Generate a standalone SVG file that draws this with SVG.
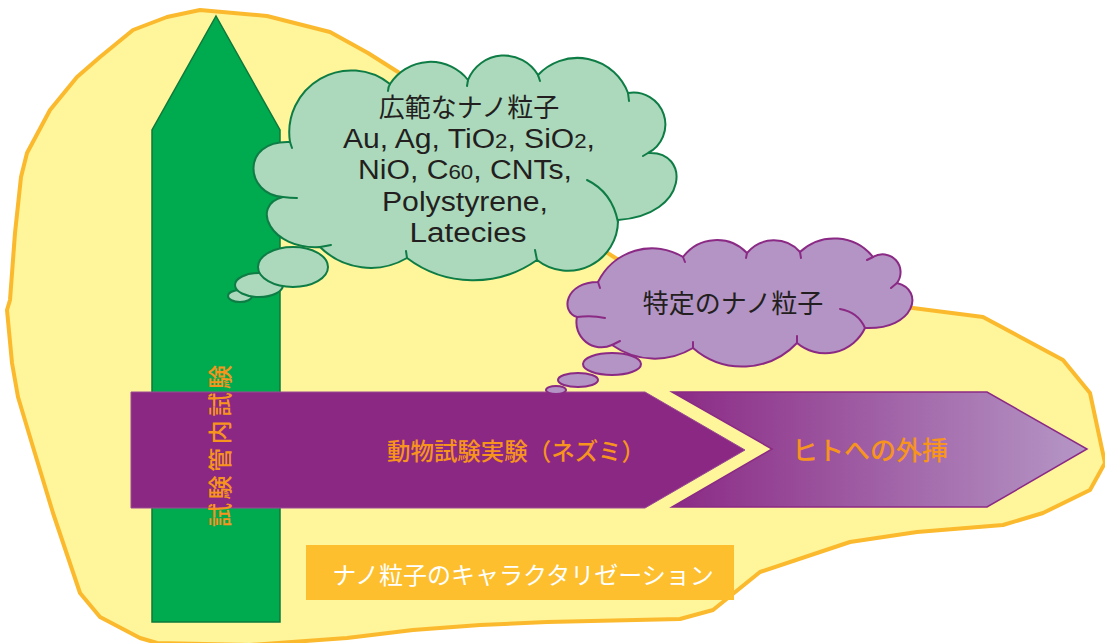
<svg xmlns="http://www.w3.org/2000/svg" width="1105" height="643" viewBox="0 0 1105 643">
<defs>
<style>
.jp{font-family:"Noto Sans CJK JP","Liberation Sans",sans-serif;}
.lt{font-family:"Liberation Sans","Noto Sans CJK JP",sans-serif;}
.dark{fill:#231f20;}
.org{fill:#f7941d;font-weight:500;}
.gc{fill:#acd9bc;stroke:#0e7c45;stroke-width:2;}
.gh{fill:none;stroke:#0e7c45;stroke-width:2;stroke-linecap:round;}
.pc{fill:#b394c4;stroke:#8b2a85;stroke-width:2;}
.ph{fill:none;stroke:#8b2a85;stroke-width:2;stroke-linecap:round;}
</style>
<linearGradient id="pg" x1="0" y1="0" x2="1" y2="0">
<stop offset="0" stop-color="#8b2a85"/>
<stop offset="1" stop-color="#b597c6"/>
</linearGradient>
</defs>
<rect width="1105" height="643" fill="#ffffff"/>

<g id="blob">
<path d="M200,10 L267,16 L330,32 L368,53 L398,72 L500,160 L603,250 L617,259 L760,290 L913,308 L983,317 L1063,360 L1090,393 L1105,463 L1090,490 L1043,513 L1003,525 L917,532 L850,542 L760,572 L713,610 L680,619 L547,622 L480,625 L413,630 L347,638 L250,645 L157,643 L140,638 L100,617 L90,605 L80,593 L53,513 L33,447 L18,397 L12,363 L7,310 L10,300 L15,233 L21,177 L27,153 L50,110 L77,77 L100,57 L133,30 L167,17 Z" fill="#fff59a" stroke="#fbb92d" stroke-width="4" stroke-linejoin="round"/>
</g>

<g id="invitro">
<polygon points="216,16 280,130 280,622 152,622 152,130" fill="#00aa4e" stroke="#0c7a3d" stroke-width="1.5"/>
</g>

<g id="cloud-wide">
<ellipse class="gc" cx="240" cy="296" rx="12" ry="6"/>
<ellipse class="gc" cx="259" cy="285" rx="24" ry="12"/>
<ellipse class="gc" cx="293" cy="267" rx="35" ry="20"/>
<path class="gc" d="M290,142 A62 62 0 0 1 390,84 A48 48 0 0 1 468,80 A39 39 0 0 1 538,75 A54 54 0 0 1 628,93 A32 32 0 0 1 648,153 C690,150 690,215 618,220 A50 50 0 0 1 537,260 A110 110 0 0 1 407,258 A72 72 0 0 1 320,247 C270,250 250,205 283,197 C245,195 240,140 290,142 Z"/>
<path class="gh" d="M283,197 Q290,198 297,198 M320,247 Q326,246 331,245 M290,142 L292,148 M390,84 Q388,87 388,91 M468,80 L467,86 M538,75 L540,81 M628,93 L629,101 M648,153 L643,156 M587,180 Q612,192 618,222 M537,260 L535,250 M407,258 L406,251"/>
<text class="jp dark" x="469" y="117" font-size="26" text-anchor="middle">広範なナノ粒子</text>
<text class="lt dark" x="469" y="148" font-size="27" text-anchor="middle" textLength="252" lengthAdjust="spacingAndGlyphs">Au, Ag, TiO<tspan font-size="20">2</tspan>, SiO<tspan font-size="20">2</tspan>,</text>
<text class="lt dark" x="465" y="179" font-size="27" text-anchor="middle" textLength="214" lengthAdjust="spacingAndGlyphs">NiO, C<tspan font-size="20">60</tspan>, CNTs,</text>
<text class="lt dark" x="465" y="211" font-size="27" text-anchor="middle" textLength="166" lengthAdjust="spacingAndGlyphs">Polystyrene,</text>
<text class="lt dark" x="468" y="242" font-size="27" text-anchor="middle" textLength="117" lengthAdjust="spacingAndGlyphs">Latecies</text>
</g>

<g id="animal">
<polygon points="131,392 645,392 745,450 645,508 131,508" fill="#8b2883" stroke="#9a4a95" stroke-width="1"/>
<text class="jp org" x="516" y="449" font-size="24" text-anchor="middle" dominant-baseline="central" textLength="258" lengthAdjust="spacingAndGlyphs">動物試験実験（ネズミ）</text>
</g>

<g id="human">
<polygon points="672,392 987,392 1087,449 987,507 672,507 772,449" fill="url(#pg)" stroke="#8b2a85" stroke-width="1.5"/>
<text class="jp org" x="870" y="448" font-size="26" text-anchor="middle" dominant-baseline="central">ヒトへの外挿</text>
</g>

<g id="invitro-label">
<text class="jp org" transform="translate(218,446) rotate(-90)" font-size="24" text-anchor="middle" dominant-baseline="central" textLength="162" lengthAdjust="spacing">試験管内試験</text>
</g>

<g id="cloud-specific">
<ellipse class="pc" cx="556" cy="390" rx="10" ry="4"/>
<ellipse class="pc" cx="578" cy="380" rx="20" ry="7"/>
<ellipse class="pc" cx="612" cy="364" rx="29" ry="11"/>
<path class="pc" d="M577,317 C560,312 565,282 598,282 A60 60 0 0 1 683,257 A42 42 0 0 1 747,253 A35 35 0 0 1 800,252 A50 50 0 0 1 873,257 A18 18 0 0 1 897,283 C925,290 915,330 865,328 A44 44 0 0 1 797,343 A75 75 0 0 1 693,348 A74 74 0 0 1 612,345 A25 25 0 0 1 577,317 Z"/>
<path class="ph" d="M577,317 Q592,315 605,318 M598,282 L600,288 M683,257 L685,262 M747,253 L746,258 M800,252 L801,258 M873,257 L867,260 M897,283 L891,288 M865,328 Q858,312 840,309 M797,343 L797,336 M693,348 L693,342 M612,345 L620,341"/>
<text class="jp dark" x="733" y="313" font-size="26" text-anchor="middle">特定のナノ粒子</text>
</g>

<g id="characterization">
<rect x="306" y="545" width="428" height="55" fill="#fdbf2d"/>
<text class="jp" x="523" y="573" font-size="24" fill="#ffffff" text-anchor="middle" dominant-baseline="central">ナノ粒子のキャラクタリゼーション</text>
</g>

<g id="connectors"></g>
</svg>
